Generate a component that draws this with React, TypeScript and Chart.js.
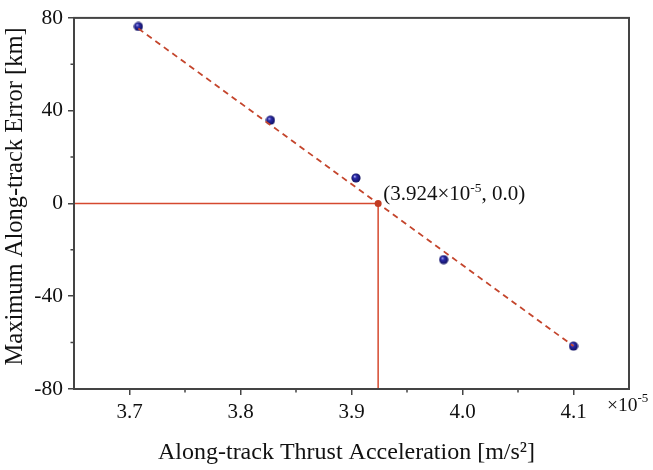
import React, { useEffect, useRef } from 'react';
import { Chart, registerables } from 'chart.js';

Chart.register(...registerables);

// ---- data (x values in units of 1e-5 m/s^2, y in km) ----
const thrustAccel = [3.708, 3.827, 3.904, 3.983, 4.1];
const maxError = [76.3, 35.9, 11.0, -24.2, -61.5];
const fitX = [3.708, 4.1];
const fitY = [75.4, -61.5];
const rootX = 3.924;
const rootY = 0.0;
const xTicks = [3.7, 3.8, 3.9, 4.0, 4.1];
const xMinorTicks = [3.75, 3.85, 3.95, 4.05];
const yTicks = [-80, -40, 0, 40, 80];
const yMinorTicks = [-60, -20, 20, 60];
const xTitle = 'Along-track Thrust Acceleration [m/s²]';
const yTitle = 'Maximum Along-track Error [km]';

const SERIF = "'Liberation Serif', 'Times New Roman', serif";

export default function App() {
  const ref = useRef<HTMLCanvasElement>(null);

  useEffect(() => {
    const canvas = ref.current!;

    // sphere marker image
    const sphere = document.createElement('canvas');
    sphere.width = 10;
    sphere.height = 10;
    const sc = sphere.getContext('2d')!;
    const g = sc.createRadialGradient(3.6, 3.4, 0.3, 5, 5, 5);
    g.addColorStop(0, '#a8a8f0');
    g.addColorStop(0.3, '#2c2caa');
    g.addColorStop(1, '#0b0b55');
    sc.fillStyle = g;
    sc.beginPath();
    sc.arc(5, 5, 4.6, 0, Math.PI * 2);
    sc.fill();

    const textWithSup = (
      ctx: CanvasRenderingContext2D,
      parts: { t: string; sup?: boolean }[],
      x: number,
      y: number,
      size: number,
      supSize: number,
      supRise: number
    ) => {
      let cx = x;
      ctx.textAlign = 'left';
      ctx.textBaseline = 'alphabetic';
      for (const p of parts) {
        ctx.font = `${p.sup ? supSize : size}px ${SERIF}`;
        ctx.fillText(p.t, cx, p.sup ? y - supRise : y);
        cx += ctx.measureText(p.t).width;
      }
    };

    const decor = {
      id: 'decor',
      afterDraw(chart: any) {
        const { ctx, chartArea: a, scales } = chart;
        const xs = scales.x;
        const ys = scales.y;
        ctx.save();
        // frame
        ctx.strokeStyle = '#444444';
        ctx.lineWidth = 2;
        ctx.strokeRect(a.left, a.top, a.right - a.left, a.bottom - a.top);
        // minor ticks
        ctx.lineWidth = 1.5;
        ctx.beginPath();
        for (const v of xMinorTicks) {
          const px = xs.getPixelForValue(v);
          ctx.moveTo(px, a.bottom);
          ctx.lineTo(px, a.bottom + 3.5);
        }
        for (const v of yMinorTicks) {
          const py = ys.getPixelForValue(v);
          ctx.moveTo(a.left, py);
          ctx.lineTo(a.left - 3.5, py);
        }
        ctx.stroke();

        ctx.fillStyle = '#111111';
        // x title
        ctx.font = `24px ${SERIF}`;
        ctx.textAlign = 'center';
        ctx.textBaseline = 'alphabetic';
        ctx.fillText(xTitle, (a.left + a.right) / 2 - 5, 459);
        // y title
        ctx.save();
        ctx.translate(22, (a.top + a.bottom) / 2 - 7);
        ctx.rotate(-Math.PI / 2);
        ctx.font = `24.5px ${SERIF}`;
        ctx.textAlign = 'center';
        ctx.textBaseline = 'alphabetic';
        ctx.fillText(yTitle, 0, 0);
        ctx.restore();

        // x10^-5 multiplier
        textWithSup(ctx, [{ t: '×10' }, { t: '-5', sup: true }], a.right - 22, 411, 19.5, 13, 9);

        // annotation
        const ax = xs.getPixelForValue(rootX) + 5;
        const ay = ys.getPixelForValue(rootY) - 3;
        textWithSup(
          ctx,
          [{ t: '(3.924×10' }, { t: '-5', sup: true }, { t: ', 0.0)' }],
          ax,
          ay,
          21,
          13.5,
          8
        );
        ctx.restore();
      },
    };

    const chart = new Chart(canvas, {
      type: 'scatter',
      data: {
        datasets: [
          {
            type: 'line',
            data: fitX.map((x, i) => ({ x, y: fitY[i] })),
            borderColor: '#c4452c',
            borderWidth: 1.8,
            borderDash: [6, 4.5],
            pointRadius: 0,
            fill: false,
            order: 1,
          },
          {
            type: 'line',
            data: [
              { x: 3.65, y: rootY },
              { x: rootX, y: rootY },
              { x: rootX, y: -80 },
            ],
            borderColor: '#d5492f',
            borderWidth: 1.5,
            pointRadius: 0,
            fill: false,
            order: 2,
          },
          {
            data: [{ x: rootX, y: rootY }],
            pointRadius: 3.5,
            pointBackgroundColor: '#c23b22',
            pointBorderColor: '#c23b22',
            pointBorderWidth: 0,
            order: 0,
          },
          {
            data: thrustAccel.map((x, i) => ({ x, y: maxError[i] })),
            pointStyle: sphere as any,
            pointRadius: 5,
            order: 3,
          },
        ],
      },
      options: {
        responsive: false,
        animation: false,
        layout: { padding: { top: 16, right: 24, left: 0, bottom: 0 } },
        plugins: {
          legend: { display: false },
          tooltip: { enabled: false },
        },
        scales: {
          x: {
            type: 'linear',
            min: 3.65,
            max: 4.15,
            afterBuildTicks: (s: any) => {
              s.ticks = xTicks.map((v) => ({ value: v }));
            },
            afterFit: (s: any) => {
              s.height = 81;
            },
            border: { display: false },
            grid: {
              drawOnChartArea: false,
              drawTicks: true,
              tickLength: 6,
              color: '#444444',
              lineWidth: 1.5,
            },
            ticks: {
              padding: 5,
              color: '#111111',
              font: { family: SERIF, size: 21 },
              callback: (v: any) => Number(v).toFixed(1),
              maxRotation: 0,
            },
          },
          y: {
            type: 'linear',
            min: -80,
            max: 80,
            afterBuildTicks: (s: any) => {
              s.ticks = yTicks.map((v) => ({ value: v }));
            },
            afterFit: (s: any) => {
              s.width = 74;
            },
            border: { display: false },
            grid: {
              drawOnChartArea: false,
              drawTicks: true,
              tickLength: 6,
              color: '#444444',
              lineWidth: 1.5,
            },
            ticks: {
              padding: 5,
              color: '#111111',
              font: { family: SERIF, size: 21.5 },
              callback: (v: any) => String(v),
            },
          },
        },
      },
      plugins: [decor],
    } as any);

    return () => chart.destroy();
  }, []);

  return (
    <div style={{ position: 'fixed', left: 0, top: 0, width: 653, height: 470, background: '#ffffff' }}>
      <canvas ref={ref} width={653} height={470} style={{ display: 'block' }} />
    </div>
  );
}
